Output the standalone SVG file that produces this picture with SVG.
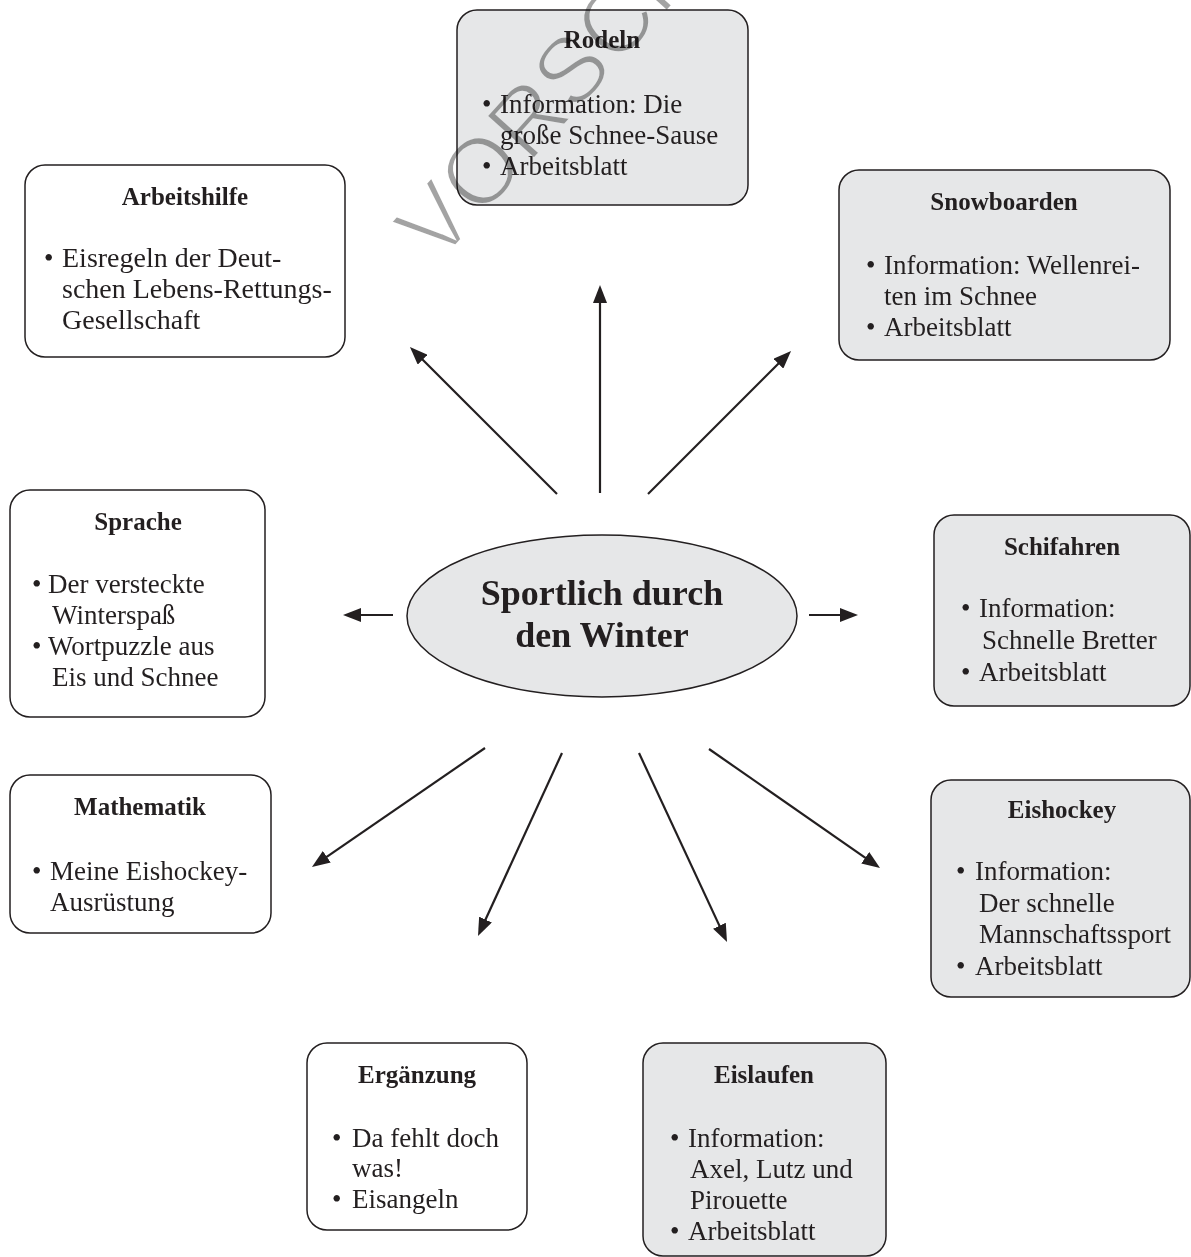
<svg xmlns="http://www.w3.org/2000/svg" width="1191" height="1257" viewBox="0 0 1191 1257">
<style>
.box{stroke:#231f20;stroke-width:1.5;fill:#ffffff}
.gray{fill:#e6e7e8}
.ttl{font-family:"Liberation Serif","Times New Roman",serif;font-weight:bold;font-size:25px;text-anchor:middle;fill:#231f20}
.txt{font-family:"Liberation Serif","Times New Roman",serif;font-size:27px;fill:#231f20}
.big{font-size:28px}
.ctr{font-family:"Liberation Serif","Times New Roman",serif;font-weight:bold;font-size:36px;text-anchor:middle;fill:#231f20}
.arr{stroke:#231f20;stroke-width:2.2;fill:none;marker-end:url(#ah)}
.wm{font-family:"Liberation Sans",Arial,sans-serif;font-size:94px;fill:#a3a3a3;stroke:#ffffff;stroke-width:3;mix-blend-mode:multiply}
</style>
<defs>
<marker id="ah" markerUnits="userSpaceOnUse" markerWidth="18" markerHeight="14" refX="12" refY="7" orient="auto">
<path d="M0,0 L18,7 L0,14 Z" fill="#231f20"/>
</marker>
</defs>
<rect width="1191" height="1257" fill="#ffffff"/>

<g id="center">
<ellipse cx="602" cy="616" rx="195" ry="81" class="box gray"/>
<text class="ctr" x="602" y="605">Sportlich durch</text>
<text class="ctr" x="602" y="647">den Winter</text>
</g>

<g id="rodeln">
<rect x="457" y="10" width="291" height="195" rx="20" class="box gray"/>
<text class="ttl" x="602" y="48">Rodeln</text>
<text class="txt" x="482" y="113">•</text>
<text class="txt" x="500" y="113">Information: Die</text>
<text class="txt" x="500" y="144">große Schnee-Sause</text>
<text class="txt" x="482" y="175">•</text>
<text class="txt" x="500" y="175">Arbeitsblatt</text>
</g>

<g id="arbeitshilfe">
<rect x="25" y="165" width="320" height="192" rx="20" class="box"/>
<text class="ttl" x="185" y="205">Arbeitshilfe</text>
<text class="txt" x="44" y="267">•</text>
<text class="txt big" x="62" y="267">Eisregeln der Deut-</text>
<text class="txt big" x="62" y="298">schen Lebens-Rettungs-</text>
<text class="txt big" x="62" y="329">Gesellschaft</text>
</g>

<g id="snowboarden">
<rect x="839" y="170" width="331" height="190" rx="20" class="box gray"/>
<text class="ttl" x="1004" y="210">Snowboarden</text>
<text class="txt" x="866" y="274">•</text>
<text class="txt" x="884" y="274">Information: Wellenrei-</text>
<text class="txt" x="884" y="305">ten im Schnee</text>
<text class="txt" x="866" y="336">•</text>
<text class="txt" x="884" y="336">Arbeitsblatt</text>
</g>

<g id="sprache">
<rect x="10" y="490" width="255" height="227" rx="20" class="box"/>
<text class="ttl" x="138" y="530">Sprache</text>
<text class="txt" x="32" y="593">•</text>
<text class="txt" x="48" y="593">Der versteckte</text>
<text class="txt" x="52" y="624">Winterspaß</text>
<text class="txt" x="32" y="655">•</text>
<text class="txt" x="48" y="655">Wortpuzzle aus</text>
<text class="txt" x="52" y="686">Eis und Schnee</text>
</g>

<g id="schifahren">
<rect x="934" y="515" width="256" height="191" rx="20" class="box gray"/>
<text class="ttl" x="1062" y="555">Schifahren</text>
<text class="txt" x="961" y="617">•</text>
<text class="txt" x="979" y="617">Information:</text>
<text class="txt" x="982" y="649">Schnelle Bretter</text>
<text class="txt" x="961" y="681">•</text>
<text class="txt" x="979" y="681">Arbeitsblatt</text>
</g>

<g id="mathematik">
<rect x="10" y="775" width="261" height="158" rx="20" class="box"/>
<text class="ttl" x="140" y="815">Mathematik</text>
<text class="txt" x="32" y="880">•</text>
<text class="txt" x="50" y="880">Meine Eishockey-</text>
<text class="txt" x="50" y="911">Ausrüstung</text>
</g>

<g id="eishockey">
<rect x="931" y="780" width="259" height="217" rx="20" class="box gray"/>
<text class="ttl" x="1062" y="818">Eishockey</text>
<text class="txt" x="956" y="880">•</text>
<text class="txt" x="975" y="880">Information:</text>
<text class="txt" x="979" y="912">Der schnelle</text>
<text class="txt" x="979" y="943">Mannschaftssport</text>
<text class="txt" x="956" y="975">•</text>
<text class="txt" x="975" y="975">Arbeitsblatt</text>
</g>

<g id="ergaenzung">
<rect x="307" y="1043" width="220" height="187" rx="20" class="box"/>
<text class="ttl" x="417" y="1083">Ergänzung</text>
<text class="txt" x="332" y="1147">•</text>
<text class="txt" x="352" y="1147">Da fehlt doch</text>
<text class="txt" x="352" y="1177">was!</text>
<text class="txt" x="332" y="1208">•</text>
<text class="txt" x="352" y="1208">Eisangeln</text>
</g>

<g id="eislaufen">
<rect x="643" y="1043" width="243" height="213" rx="20" class="box gray"/>
<text class="ttl" x="764" y="1083">Eislaufen</text>
<text class="txt" x="670" y="1147">•</text>
<text class="txt" x="688" y="1147">Information:</text>
<text class="txt" x="690" y="1178">Axel, Lutz und</text>
<text class="txt" x="690" y="1209">Pirouette</text>
<text class="txt" x="670" y="1240">•</text>
<text class="txt" x="688" y="1240">Arbeitsblatt</text>
</g>

<g id="connectors">
<line class="arr" x1="600" y1="493" x2="600" y2="291"/>
<line class="arr" x1="557" y1="494" x2="414.2" y2="351.2"/>
<line class="arr" x1="648" y1="494" x2="786.8" y2="355.2"/>
<line class="arr" x1="393" y1="615" x2="349" y2="615"/>
<line class="arr" x1="809" y1="615" x2="852" y2="615"/>
<line class="arr" x1="485" y1="748" x2="316.9" y2="863.6"/>
<line class="arr" x1="562" y1="753" x2="480.5" y2="930.5"/>
<line class="arr" x1="639" y1="753" x2="724.5" y2="936.6"/>
<line class="arr" x1="709" y1="749" x2="875.1" y2="864.6"/>
</g>

<text class="wm" x="0" y="0" transform="translate(438,266) rotate(-48)">VORSCHAU</text>
</svg>
